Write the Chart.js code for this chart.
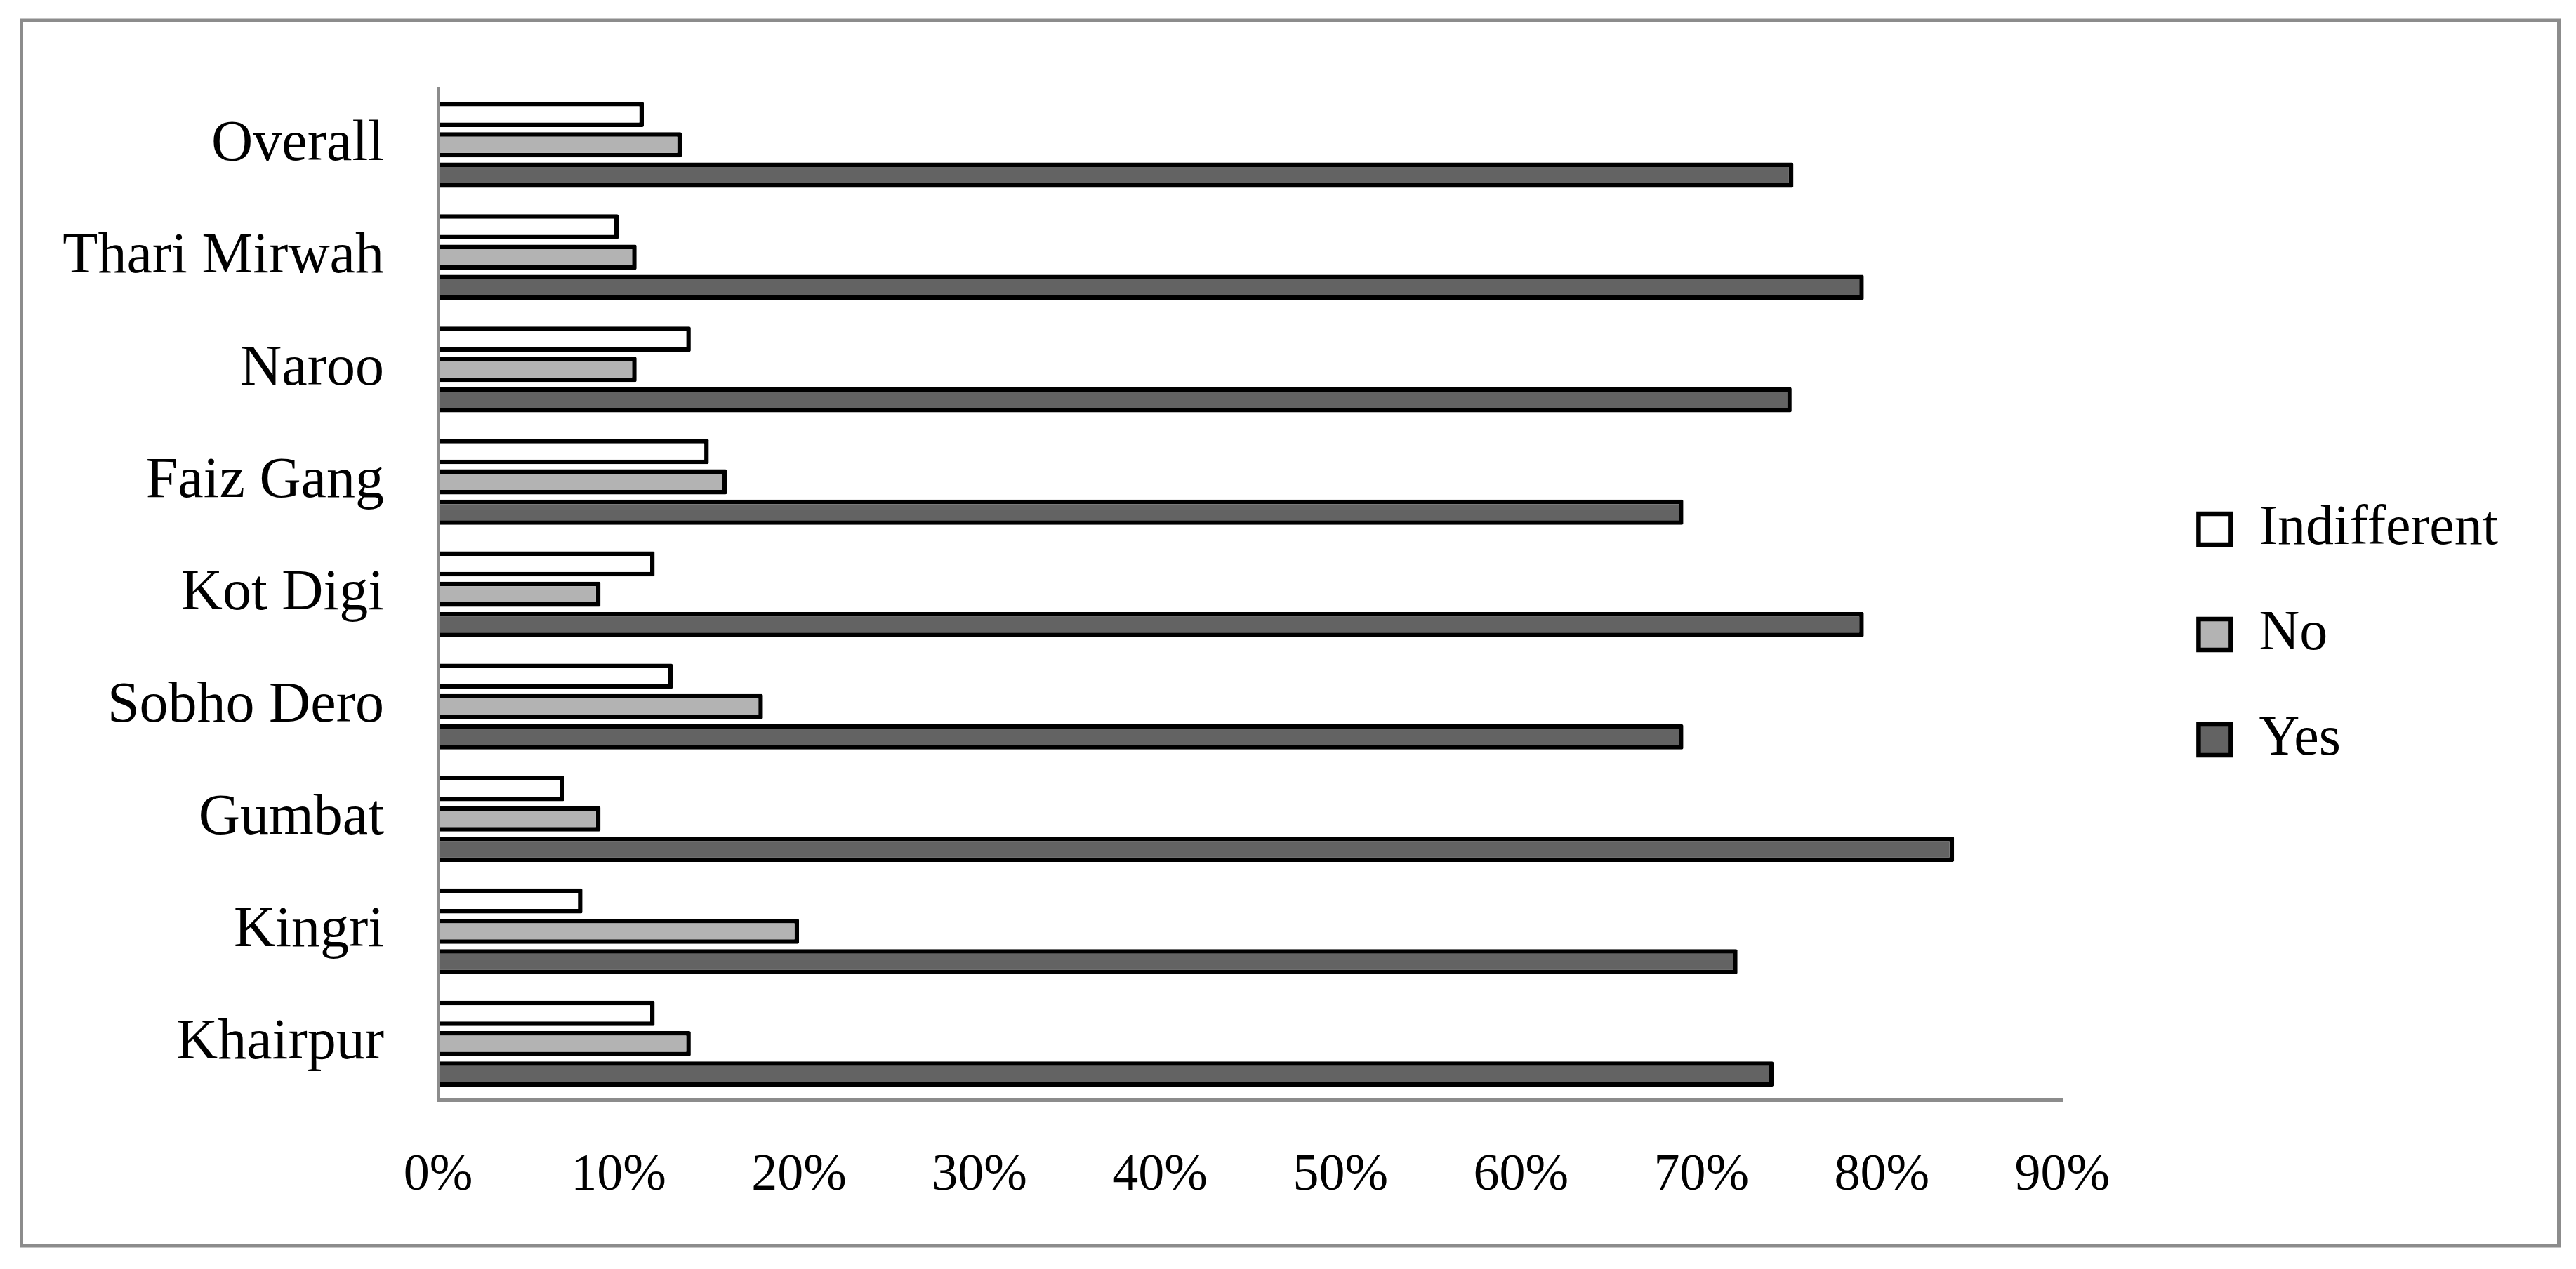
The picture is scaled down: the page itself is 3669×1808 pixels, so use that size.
<!DOCTYPE html>
<html><head><meta charset="utf-8">
<script src="https://cdn.jsdelivr.net/npm/chart.js@4.4.1/dist/chart.umd.min.js"></script>
<style>html,body{margin:0;padding:0;background:#fff;} canvas{display:block;}</style>
</head><body>
<canvas id="c" width="3669" height="1808"></canvas>
<script>
const categories = ['Overall', 'Thari Mirwah', 'Naroo', 'Faiz Gang', 'Kot Digi', 'Sobho Dero', 'Gumbat', 'Kingri', 'Khairpur'];
const indifferent = [11.4, 10, 14, 15, 12, 13, 7, 8, 12];
const no = [13.5, 11, 11, 16, 9, 18, 9, 20, 14];
const yes = [75.1, 79, 75, 69, 79, 69, 84, 72, 74];
const seriesNames = ['Indifferent', 'No', 'Yes'];
const xTickMin = 0, xTickMax = 90, xTickStep = 10;

Chart.defaults.font.family = "'Liberation Serif', 'Times New Roman', serif";
Chart.defaults.color = '#000';

const framePlugin = {
  id: 'frame',
  afterDraw(chart) {
    const ctx = chart.ctx;
    ctx.save();
    ctx.strokeStyle = '#8c8c8c';
    ctx.lineWidth = 5;
    ctx.strokeRect(30.5, 29, 3614, 1746);
    ctx.restore();
  }
};

const barStyle = { borderColor: '#000', borderWidth: 6.5, borderRadius: 2, xAxisID: 'x', yAxisID: 'y' };

new Chart(document.getElementById('c'), {
  type: 'bar',
  data: {
    labels: categories,
    datasets: [
      Object.assign({ label: seriesNames[0], data: indifferent, backgroundColor: '#ffffff' }, barStyle),
      Object.assign({ label: seriesNames[1], data: no, backgroundColor: '#b3b3b3' }, barStyle),
      Object.assign({ label: seriesNames[2], data: yes, backgroundColor: '#636363' }, barStyle)
    ]
  },
  options: {
    indexAxis: 'y',
    responsive: false,
    animation: false,
    devicePixelRatio: 1,
    datasets: { bar: { categoryPercentage: 0.81, barPercentage: 0.83 } },
    layout: { padding: { left: 0, top: 0, bottom: 0, right: 101 } },
    plugins: {
      tooltip: { enabled: false },
      legend: {
        position: 'right',
        labels: { boxWidth: 46, boxHeight: 44, padding: 70, font: { size: 80 }, color: '#000' }
      }
    },
    scales: {
      x: {
        type: 'linear', position: 'bottom', min: xTickMin, max: xTickMax,
        ticks: { stepSize: xTickStep, callback: v => v + '%', font: { size: 74, lineHeight: 1.2 }, color: '#000', padding: 64, maxRotation: 0, autoSkip: false },
        grid: { display: false, drawTicks: false },
        border: { display: true, color: '#8c8c8c', width: 5, z: 1 },
        afterFit: s => { s.height = 241; }
      },
      x2: {
        type: 'linear', axis: 'x', position: 'top',
        ticks: { display: false }, grid: { display: false, drawTicks: false }, border: { display: false },
        afterFit: s => { s.height = 120; }
      },
      y: {
        type: 'category', position: 'left',
        ticks: { font: { size: 82 }, color: '#000', padding: 77, autoSkip: false },
        grid: { display: false, drawTicks: false },
        border: { display: true, color: '#8c8c8c', width: 5, z: 1 },
        afterFit: s => { s.width = 624; }
      },
      y2: {
        type: 'linear', axis: 'y', position: 'right',
        ticks: { display: false }, grid: { display: false, drawTicks: false }, border: { display: false },
        afterFit: s => { s.width = 124; }
      }
    }
  },
  plugins: [framePlugin]
});
</script>
</body></html>
